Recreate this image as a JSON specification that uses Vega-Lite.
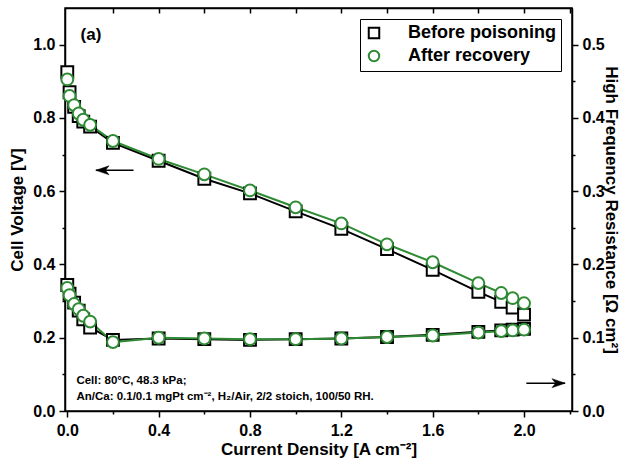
{
  "$schema": "https://vega.github.io/schema/vega-lite/v6.json",
  "width": 507,
  "height": 403,
  "autosize": {"type": "none"},
  "padding": {"left": 65, "top": 8, "right": 54, "bottom": 53},
  "background": "white",
  "config": {
    "view": {"stroke": "black", "strokeWidth": 1.5},
    "font": "Liberation Sans",
    "axis": {
      "labelFont": "Liberation Sans", "labelFontSize": 16, "labelFontWeight": "bold", "labelColor": "black",
      "titleFont": "Liberation Sans", "titleFontSize": 17, "titleFontWeight": "bold", "titleColor": "black",
      "domainColor": "black", "domainWidth": 1.5, "tickColor": "black", "tickWidth": 1.5, "grid": false,
      "labelOverlap": false, "labelFlush": false
    },
    "legend": {
      "orient": "top-right", "offset": 11, "strokeColor": "black", "fillColor": "white", "padding": 5,
      "labelFont": "Liberation Sans", "labelFontSize": 18, "labelFontWeight": "bold", "labelColor": "black",
      "symbolSize": 110, "symbolStrokeWidth": 2, "labelOffset": 25, "rowPadding": 3
    }
  },
  "datasets": {
    "main": [
      {"series": "Before poisoning", "I": 0.0, "V": 0.925, "HFR": 0.172},
      {"series": "Before poisoning", "I": 0.01, "V": 0.87, "HFR": 0.160},
      {"series": "Before poisoning", "I": 0.03, "V": 0.83, "HFR": 0.148},
      {"series": "Before poisoning", "I": 0.05, "V": 0.805, "HFR": 0.137},
      {"series": "Before poisoning", "I": 0.07, "V": 0.79, "HFR": 0.125},
      {"series": "Before poisoning", "I": 0.1, "V": 0.776, "HFR": 0.114},
      {"series": "Before poisoning", "I": 0.2, "V": 0.732, "HFR": 0.097},
      {"series": "Before poisoning", "I": 0.4, "V": 0.683, "HFR": 0.099},
      {"series": "Before poisoning", "I": 0.6, "V": 0.634, "HFR": 0.098},
      {"series": "Before poisoning", "I": 0.8, "V": 0.594, "HFR": 0.097},
      {"series": "Before poisoning", "I": 1.0, "V": 0.545, "HFR": 0.098},
      {"series": "Before poisoning", "I": 1.2, "V": 0.497, "HFR": 0.099},
      {"series": "Before poisoning", "I": 1.4, "V": 0.442, "HFR": 0.101},
      {"series": "Before poisoning", "I": 1.6, "V": 0.385, "HFR": 0.104},
      {"series": "Before poisoning", "I": 1.8, "V": 0.325, "HFR": 0.108},
      {"series": "Before poisoning", "I": 1.9, "V": 0.298, "HFR": 0.110},
      {"series": "Before poisoning", "I": 1.95, "V": 0.282, "HFR": 0.111},
      {"series": "Before poisoning", "I": 2.0, "V": 0.263, "HFR": 0.112},
      {"series": "After recovery", "I": 0.0, "V": 0.905, "HFR": 0.168},
      {"series": "After recovery", "I": 0.01, "V": 0.86, "HFR": 0.158},
      {"series": "After recovery", "I": 0.03, "V": 0.835, "HFR": 0.146},
      {"series": "After recovery", "I": 0.05, "V": 0.812, "HFR": 0.139},
      {"series": "After recovery", "I": 0.07, "V": 0.795, "HFR": 0.130},
      {"series": "After recovery", "I": 0.1, "V": 0.781, "HFR": 0.122},
      {"series": "After recovery", "I": 0.2, "V": 0.737, "HFR": 0.094},
      {"series": "After recovery", "I": 0.4, "V": 0.688, "HFR": 0.100},
      {"series": "After recovery", "I": 0.6, "V": 0.646, "HFR": 0.099},
      {"series": "After recovery", "I": 0.8, "V": 0.602, "HFR": 0.098},
      {"series": "After recovery", "I": 1.0, "V": 0.556, "HFR": 0.098},
      {"series": "After recovery", "I": 1.2, "V": 0.512, "HFR": 0.099},
      {"series": "After recovery", "I": 1.4, "V": 0.455, "HFR": 0.101},
      {"series": "After recovery", "I": 1.6, "V": 0.406, "HFR": 0.103},
      {"series": "After recovery", "I": 1.8, "V": 0.349, "HFR": 0.107},
      {"series": "After recovery", "I": 1.9, "V": 0.322, "HFR": 0.109},
      {"series": "After recovery", "I": 1.95, "V": 0.308, "HFR": 0.110},
      {"series": "After recovery", "I": 2.0, "V": 0.294, "HFR": 0.111}
    ],
    "arrows": [
      {"I": 0.125, "I2": 0.29, "V": 0.657, "dir": "left"},
      {"I": 2.18, "I2": 2.01, "V": 0.076, "dir": "right"}
    ],
    "notes": [
      {"I": 0.04, "V": 0.082, "t": "Cell: 80°C, 48.3 kPa;", "size": 11.5},
      {"I": 0.04, "V": 0.038, "t": "An/Ca: 0.1/0.1 mgPt cm⁻², H₂/Air, 2/2 stoich, 100/50 RH.", "size": 11.5},
      {"I": 0.058, "V": 1.025, "t": "(a)", "size": 17}
    ]
  },
  "data": {"name": "main"},
  "resolve": {"scale": {"y": "independent"}, "axis": {"x": "independent"}},
  "layer": [
    {
      "encoding": {
        "x": {
          "field": "I", "type": "quantitative",
          "scale": {"domain": [-0.01, 2.21], "nice": false, "zero": false},
          "axis": {
            "orient": "bottom",
            "values": [0, 0.2, 0.4, 0.6, 0.8, 1.0, 1.2, 1.4, 1.6, 1.8, 2.0, 2.2],
            "title": "Current Density [A cm⁻²]",
            "tickSize": {"condition": {"test": "round(datum.value*10) % 4 === 0", "value": 6}, "value": 3},
            "labelExpr": "round(datum.value*10) % 4 === 0 ? format(datum.value, '.1f') : ''",
            "labelPadding": 5, "titlePadding": 3
          }
        },
        "y": {
          "field": "V", "type": "quantitative",
          "scale": {"domain": [0, 1.1], "nice": false, "zero": false},
          "axis": {
            "orient": "left",
            "values": [0, 0.1, 0.2, 0.3, 0.4, 0.5, 0.6, 0.7, 0.8, 0.9, 1.0],
            "title": "Cell Voltage [V]",
            "tickSize": {"condition": {"test": "round(datum.value*10) % 2 === 0", "value": 6}, "value": 3},
            "labelExpr": "round(datum.value*10) % 2 === 0 ? format(datum.value, '.1f') : ''",
            "labelPadding": 4, "titlePadding": 6
          }
        }
      },
      "layer": [
        {
          "mark": {"type": "line", "strokeWidth": 2},
          "encoding": {
            "stroke": {"field": "series", "type": "nominal",
              "scale": {"domain": ["Before poisoning", "After recovery"], "range": ["#000000", "#2e8b34"]},
              "legend": {"title": null}
            },
            "order": {"field": "I", "type": "quantitative"}
          }
        },
        {
          "mark": {"type": "point", "filled": false, "fill": "white", "fillOpacity": 1, "opacity": 1, "strokeWidth": 2, "size": 140},
          "encoding": {
            "stroke": {"field": "series", "type": "nominal", "legend": {"title": null}},
            "shape": {"field": "series", "type": "nominal", "legend": null,
              "scale": {"domain": ["Before poisoning", "After recovery"], "range": ["square", "circle"]}}
          }
        },
        {
          "data": {"name": "arrows"},
          "mark": {"type": "rule", "stroke": "black", "strokeWidth": 1.5},
          "encoding": {"x2": {"field": "I2"}}
        },
        {
          "data": {"name": "arrows"},
          "transform": [{"filter": "datum.dir === 'left'"}],
          "mark": {"type": "point", "filled": true, "fill": "black", "stroke": "black", "strokeWidth": 0.5, "opacity": 1, "size": 144,
            "shape": "M0,0 L2.2,-0.75 L1.6,0 L2.2,0.75 Z"}
        },
        {
          "data": {"name": "arrows"},
          "transform": [{"filter": "datum.dir === 'right'"}],
          "mark": {"type": "point", "filled": true, "fill": "black", "stroke": "black", "strokeWidth": 0.5, "opacity": 1, "size": 144,
            "shape": "M0,0 L-2.2,-0.75 L-1.6,0 L-2.2,0.75 Z"}
        },
        {
          "data": {"name": "notes"},
          "mark": {"type": "text", "align": "left", "baseline": "middle", "font": "Liberation Sans", "fontWeight": "bold", "color": "black"},
          "encoding": {
            "text": {"field": "t"},
            "size": {"field": "size", "type": "quantitative", "scale": null}
          }
        }
      ]
    },
    {
      "encoding": {
        "x": {
          "field": "I", "type": "quantitative",
          "scale": {"domain": [-0.01, 2.21], "nice": false, "zero": false},
          "axis": {
            "orient": "top", "values": [0.2, 0.4, 0.6, 0.8, 1.0, 1.2, 1.4, 1.6, 1.8, 2.0, 2.2],
            "labels": false, "title": null, "tickSize": -5
          }
        },
        "y": {
          "field": "HFR", "type": "quantitative",
          "scale": {"domain": [0, 0.55], "nice": false, "zero": false},
          "axis": {
            "orient": "right",
            "values": [0, 0.05, 0.1, 0.15, 0.2, 0.25, 0.3, 0.35, 0.4, 0.45, 0.5],
            "title": "High Frequency Resistance [Ω cm²]",
            "tickSize": {"condition": {"test": "round(datum.value*100) % 10 === 0", "value": 6}, "value": 3},
            "labelExpr": "round(datum.value*100) % 10 === 0 ? format(datum.value, '.1f') : ''",
            "labelPadding": 4, "titlePadding": -3
          }
        }
      },
      "layer": [
        {
          "mark": {"type": "line", "strokeWidth": 2},
          "encoding": {
            "stroke": {"field": "series", "type": "nominal", "legend": {"title": null}},
            "order": {"field": "I", "type": "quantitative"}
          }
        },
        {
          "mark": {"type": "point", "filled": false, "fill": "white", "fillOpacity": 1, "opacity": 1, "strokeWidth": 2, "size": 140},
          "encoding": {
            "stroke": {"field": "series", "type": "nominal", "legend": {"title": null}},
            "shape": {"field": "series", "type": "nominal", "legend": null}
          }
        }
      ]
    }
  ]
}
